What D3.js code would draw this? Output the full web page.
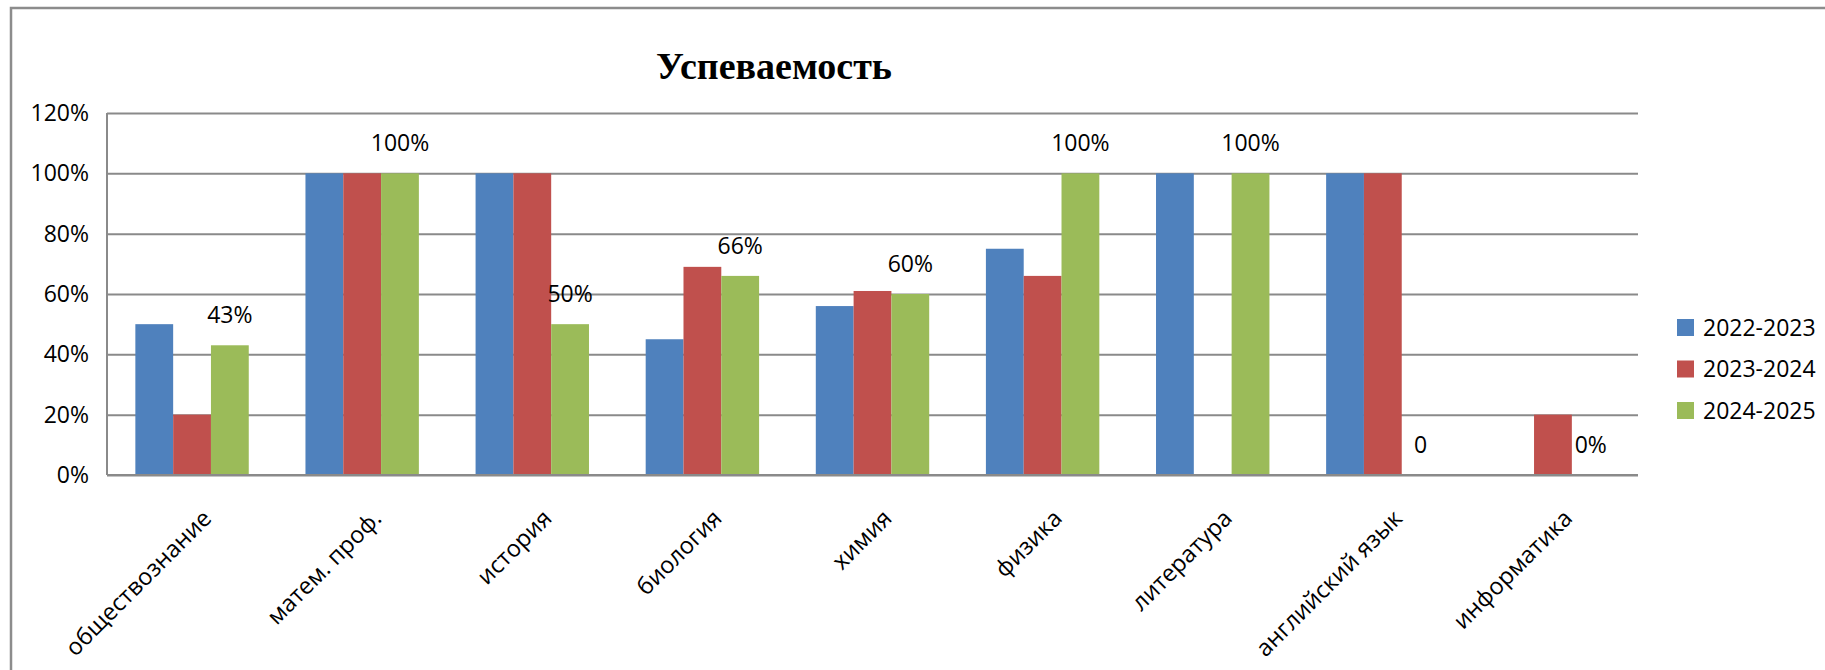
<!DOCTYPE html>
<html>
<head>
<meta charset="utf-8">
<script src="https://cdn.jsdelivr.net/npm/d3@7"></script>
<style>
  html, body { margin: 0; padding: 0; background: #fff; }
  svg { display: block; }
  text { font-family: "Open Sans", sans-serif; fill: #000; }
</style>
</head>
<body>
<div id="chart"></div>
<script>
// subjects on the x axis
const subjects = ["обществознание", "матем. проф.", "история", "биология", "химия",
                  "физика", "литература", "английский язык", "информатика"];
const years = ["2022-2023", "2023-2024", "2024-2025"];

// values in percent (null = no bar)
const y2022 = [50, 100, 100, 45, 56, 75, 100, 100, null];
const y2023 = [20, 100, 100, 69, 61, 66, null, 100, 20];
const y2024 = [43, 100, 50, 66, 60, 100, 100, 0, 0];

// only the last series has labels, as in the original
const labels2024 = ["43%", "100%", "50%", "66%", "60%", "100%", "100%", "0", "0%"];
const yTicks = [0, 20, 40, 60, 80, 100, 120];

const colors = ["#4F81BD", "#C0504D", "#9BBB59"];

const W = 1825, H = 670;
const plot = { left: 107, right: 1638, top: 113, bottom: 475 };

const svg = d3.select("#chart").append("svg")
    .attr("width", W)
    .attr("height", H);

// outer frame (only top and left edges show in the crop)
svg.append("path")
    .attr("d", `M11,${H + 5} L11,8 L${W + 5},8`)
    .attr("fill", "none")
    .attr("stroke", "#8c8c8c")
    .attr("stroke-width", 2.5);

svg.append("text")
    .attr("x", 774)
    .attr("y", 79)
    .attr("text-anchor", "middle")
    .style("font-family", "'Liberation Serif', 'Times New Roman', serif")
    .style("font-weight", "bold")
    .style("font-size", "38px")
    .text("Успеваемость");

const x0 = d3.scaleBand()
    .domain(subjects)
    .range([plot.left, plot.right])
    .paddingInner(1 / 3)
    .paddingOuter(1 / 6);

const x1 = d3.scaleBand()
    .domain(years)
    .range([0, x0.bandwidth()]);

const y = d3.scaleLinear()
    .domain([0, 120])
    .range([plot.bottom, plot.top]);

// gridlines + y labels
const yAxis = svg.append("g")
    .attr("transform", `translate(${plot.left},0)`)
    .call(d3.axisLeft(y)
        .tickValues(yTicks)
        .tickSize(-(plot.right - plot.left))
        .tickPadding(18)
        .tickFormat(d => d + "%"));
yAxis.select(".domain").remove();
yAxis.selectAll(".tick line")
    .attr("stroke", "#8a8a8a")
    .attr("stroke-width", 2);
yAxis.selectAll(".tick text")
    .style("font-family", "'Open Sans', sans-serif")
    .style("font-size", "23px")
    .attr("fill", "#000");

// left axis line
svg.append("line")
    .attr("x1", plot.left).attr("x2", plot.left)
    .attr("y1", y(120)).attr("y2", y(0))
    .attr("stroke", "#8a8a8a")
    .attr("stroke-width", 2);

const series = [y2022, y2023, y2024];

series.forEach((vals, si) => {
    svg.append("g")
        .selectAll("rect")
        .data(subjects.map((s, i) => ({ s, v: vals[i] })).filter(d => d.v))
        .join("rect")
        .attr("x", d => x0(d.s) + x1(years[si]))
        .attr("width", x1.bandwidth())
        .attr("y", d => y(d.v))
        .attr("height", d => y(0) - y(d.v))
        .attr("fill", colors[si]);
});

// bottom axis line over the bars
svg.append("line")
    .attr("x1", plot.left).attr("x2", plot.right)
    .attr("y1", y(0)).attr("y2", y(0))
    .attr("stroke", "#8a8a8a")
    .attr("stroke-width", 2);

// data labels for 2024-2025
svg.append("g")
    .selectAll("text")
    .data(subjects.map((s, i) => ({ s, v: y2024[i], t: labels2024[i] })))
    .join("text")
    .attr("x", d => x0(d.s) + x1(years[2]) + x1.bandwidth() / 2)
    .attr("y", d => y(d.v) - 30)
    .attr("dy", "0.35em")
    .attr("text-anchor", "middle")
    .style("font-size", "23px")
    .text(d => d.t);

// category labels, rotated
svg.append("g")
    .selectAll("text")
    .data(subjects)
    .join("text")
    .attr("transform", d => `translate(${x0(d) + x0.bandwidth() / 2 + 15},${plot.bottom + 39}) rotate(-45)`)
    .attr("text-anchor", "end")
    .attr("dy", "0.35em")
    .style("font-size", "23.5px")
    .text(d => d);

// legend
const legend = svg.append("g")
    .selectAll("g")
    .data(years)
    .join("g")
    .attr("transform", (d, i) => `translate(1677,${327.5 + i * 41.5})`);
legend.append("rect")
    .attr("x", 0).attr("y", -8.5)
    .attr("width", 17).attr("height", 17)
    .attr("fill", (d, i) => colors[i]);
legend.append("text")
    .attr("x", 26)
    .attr("dy", "0.35em")
    .style("font-size", "23px")
    .text(d => d);
</script>
</body>
</html>
